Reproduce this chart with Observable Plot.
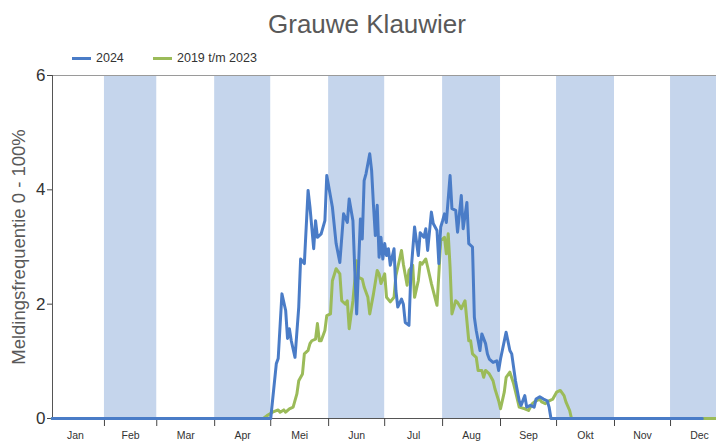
<!DOCTYPE html>
<html><head><meta charset="utf-8">
<script src="https://cdn.jsdelivr.net/npm/d3@7"></script>
<script src="https://cdn.jsdelivr.net/npm/@observablehq/plot@0.6"></script>
<style>
body{margin:0;background:#fff;font-family:"Liberation Sans",Arial,sans-serif;}
#wrap{position:relative;width:716px;height:442px;overflow:hidden;}
#title{position:absolute;left:0;width:734px;top:11px;text-align:center;font-size:26px;line-height:26px;color:#595959;}
.leg{position:absolute;top:51px;font-size:12.5px;line-height:14px;color:#333;white-space:nowrap;}
.sw{position:absolute;top:57px;height:3px;width:19px;}
#chart{position:absolute;left:0;top:0;}
</style>
</head><body>
<div id="wrap">
  <div id="chart"></div>
  <div id="title">Grauwe Klauwier</div>
  <div class="sw" style="left:72px;background:#4a7cc7"></div>
  <div class="leg" style="left:96px">2024</div>
  <div class="sw" style="left:153px;background:#9bbb59"></div>
  <div class="leg" style="left:177px">2019 t/m 2023</div>
</div>
<script>
const monthLabels = ["Jan","Feb","Mar","Apr","Mei","Jun","Jul","Aug","Sep","Okt","Nov","Dec"];
const monthStarts = [1,32,60,91,121,152,182,213,244,274,305,335,366];
const shadedMonths = [1,3,5,7,9,11];
const yTicks = [0,2,4,6];

const blueDays = [4,121,124,125,127,129,130,131,132,134,136,137,139,141,142,144,145,146,148,150,151,154,156,158,160,162,163,165,166,167,169,170,171,172,174,175,176,177,178,179,180,181,182,183,184,185,187,188,189,191,192,193,195,196,198,200,201,203,204,205,207,208,210,211,212,213,214,215,217,218,220,221,223,224,226,227,229,230,231,233,234,236,237,238,240,242,243,244,247,249,250,252,254,255,257,258,260,262,263,265,267,269,270,271,352];
const blueVals = [0,0,0.96,1.05,2.18,1.89,1.40,1.57,1.36,1.07,1.95,2.79,2.71,3.99,3.70,2.97,3.46,3.17,3.23,3.46,4.25,3.70,3.06,2.73,3.58,3.43,3.84,3.46,2.59,1.83,3.49,3.14,4.16,4.28,4.63,4.34,3.73,3.2,3.73,2.82,3.17,2.79,3.06,2.85,2.97,2.68,2.97,2.24,1.95,2.09,2.0,1.68,1.63,2.53,3.35,2.85,3.25,3.17,3.32,2.94,3.61,3.41,3.29,2.71,3.35,3.46,3.58,3.43,4.25,3.67,3.64,3.26,3.90,3.32,3.78,3.06,3.0,1.77,1.54,1.19,1.48,1.31,1.13,1.04,0.98,1.01,0.84,1.04,1.51,1.19,1.13,0.66,0.31,0.23,0.40,0.2,0.23,0.2,0.34,0.38,0.34,0.31,0.2,0,0];

const greenDays = [4,117,119,122,125,126,128,129,131,133,135,136,138,139,141,142,143,145,146,147,148,150,151,153,154,156,158,159,161,162,163,165,167,168,170,171,173,174,176,178,179,180,182,183,185,187,188,190,191,192,194,195,197,198,200,201,202,204,205,207,210,211,212,214,215,216,217,218,220,221,223,225,227,228,229,231,232,234,235,236,238,240,241,243,244,246,247,249,251,253,254,257,259,261,263,265,266,268,270,272,274,276,278,279,281,282,366];
const greenVals = [0,0,0.05,0.11,0.15,0.11,0.15,0.11,0.17,0.2,0.43,0.66,0.78,1.13,1.19,1.31,1.36,1.39,1.66,1.36,1.36,1.54,1.80,1.83,2.41,2.62,2.53,2.06,2.0,2.06,1.57,2.06,2.76,2.47,2.44,2.30,2.12,1.83,2.18,2.59,2.53,2.36,2.53,2.12,2.04,2.12,2.50,2.79,2.94,2.70,2.33,2.59,2.68,2.12,2.41,2.73,2.70,2.79,2.65,2.36,1.98,2.53,3.11,3.17,2.88,3.23,2.65,1.83,2.06,2.03,1.92,2.06,1.36,1.36,1.13,1.07,0.84,0.84,0.72,0.84,0.78,0.66,0.52,0.31,0.17,0.46,0.72,0.81,0.61,0.34,0.2,0.17,0.14,0.26,0.31,0.34,0.29,0.26,0.31,0.34,0.46,0.49,0.40,0.29,0.14,0,0];

const blue = blueDays.map((d,i)=>({day:d, v:blueVals[i]}));
const green = greenDays.map((d,i)=>({day:d, v:greenVals[i]}));
const bands = shadedMonths.map(m=>({start:monthStarts[m], end:monthStarts[m+1]}));
const mids = monthLabels.map((_,i)=>(monthStarts[i]+monthStarts[i+1])/2);
const xDomain = [4.2, 359.6];

const chart = Plot.plot({
  width: 716, height: 442,
  marginTop: 75, marginBottom: 24, marginLeft: 52, marginRight: 0,
  style: {fontFamily: "'Liberation Sans', Arial, sans-serif", background: "transparent", color: "#444", overflow: "visible"},
  x: {domain: xDomain, axis: null},
  y: {domain: [0, 6], axis: null},
  marks: [
    Plot.rect(bands, {x1: "start", x2: "end", fill: "#c5d5ec", clip: true}),
    Plot.ruleY([6], {stroke: "#9a9a9a", strokeWidth: 1}),
    Plot.ruleY([0], {stroke: "#555", strokeWidth: 1}),
    Plot.ruleX([xDomain[0]], {stroke: "#555", strokeWidth: 1}),
    Plot.axisX({ticks: monthStarts.slice(1, 12), tickSize: 8, tickFormat: () => "", label: null, stroke: "#444"}),
    Plot.text(monthLabels, {x: mids, text: monthLabels, frameAnchor: "bottom", dy: 20, fontSize: 10.5, fill: "#333"}),
    Plot.axisY({ticks: yTicks, tickSize: 5, tickPadding: 2, fontSize: 17, label: null, tickFormat: d => String(d), fill: "#333", stroke: "#444"}),
    Plot.text(["Meldingsfrequentie 0 - 100%"], {frameAnchor: "left", textAnchor: "middle", dx: -33.5, rotate: -90, fontSize: 18.5, fill: "#595959"}),
    Plot.line(green, {x: "day", y: "v", stroke: "#9bbb59", strokeWidth: 3}),
    Plot.line(blue, {x: "day", y: "v", stroke: "#4a7cc7", strokeWidth: 3})
  ]
});
document.getElementById("chart").appendChild(chart);
</script>
</body></html>
